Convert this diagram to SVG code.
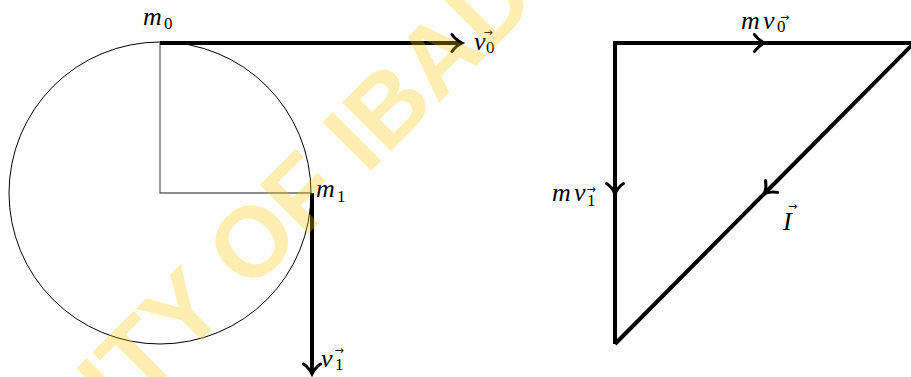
<svg xmlns="http://www.w3.org/2000/svg" width="911" height="377" viewBox="0 0 911 377">
  <style>
    .thin { fill: none; stroke: #000; stroke-width: 1; }
    .radius { fill: none; stroke: #666; stroke-width: 1.3; }
    .thick { fill: none; stroke: #000; stroke-width: 4; }
    .mi { font-family: "Liberation Serif", "DejaVu Serif", serif; font-style: italic; font-size: 26px; fill: #000; }
    .sub { font-style: normal; font-size: 17px; }
    .vec { font-family: "DejaVu Sans", sans-serif; font-style: normal; font-size: 11px; text-anchor: middle; }
    .wm { font-family: "Liberation Sans", Arial, sans-serif; font-weight: bold; font-size: 100px; fill: #FFC800; opacity: 0.3; }
  </style>
  <defs>
    <marker id="arrow" markerUnits="userSpaceOnUse" markerWidth="30" markerHeight="30" viewBox="-15 -15 30 30" refX="0" refY="0" orient="auto" overflow="visible">
      <path d="M-10,-8.5 C-7,-4 -2,-1 0,0 C-2,1 -7,4 -10,8.5" fill="none" stroke="#000" stroke-width="3" stroke-linecap="round"/>
    </marker>
  </defs>
  <rect width="911" height="377" fill="#fff"/>

  <g id="circle-path">
    <circle cx="160" cy="193" r="151" class="thin"/>
    <path d="M160,43 L160,193 L311,193" class="radius"/>
  </g>

  <g id="node-m0">
    <text class="mi"><tspan x="143" y="25">m</tspan><tspan class="sub" x="164" y="29">0</tspan></text>
  </g>
  <g id="node-m1">
    <text class="mi"><tspan x="316" y="197">m</tspan><tspan class="sub" x="337" y="202">1</tspan></text>
  </g>
  <g id="label-v0">
    <text class="mi"><tspan x="474" y="50">v</tspan><tspan class="vec" x="488" y="35.5">→</tspan><tspan class="sub" x="486" y="53">0</tspan></text>
  </g>
  <g id="label-v1">
    <text class="mi"><tspan x="321" y="367">v</tspan><tspan class="vec" x="339" y="353.5">→</tspan><tspan class="sub" x="335" y="370">1</tspan></text>
  </g>
  <g id="label-mv0">
    <text class="mi"><tspan x="741" y="29">m</tspan><tspan x="763" y="29">v</tspan><tspan class="vec" x="784.5" y="20.5">→</tspan><tspan class="sub" x="777" y="32">0</tspan></text>
  </g>
  <g id="label-mv1">
    <text class="mi"><tspan x="552" y="201">m</tspan><tspan x="574" y="201">v</tspan><tspan class="vec" x="591" y="192.5">→</tspan><tspan class="sub" x="587" y="206">1</tspan></text>
  </g>
  <g id="label-I">
    <text class="mi"><tspan x="783" y="230">I</tspan><tspan class="vec" x="792.5" y="210">→</tspan></text>
  </g>

  <g id="connectors">
    <path d="M160,43 L462,43" class="thick" marker-end="url(#arrow)"/>
    <path d="M312,193 L312,374" class="thick" marker-end="url(#arrow)"/>
    <path d="M613,43 L764.5,43 L916,43" class="thick" marker-mid="url(#arrow)"/>
    <path d="M615,43 L615,193.5 L615,344" class="thick" marker-mid="url(#arrow)"/>
    <path d="M914,43 L764.5,193.5 L615,344" class="thick" marker-mid="url(#arrow)" stroke-linejoin="round"/>
  </g>

  <text class="wm" transform="translate(-194,736) rotate(-45)">UNIVERSITY OF IBADAN</text>
</svg>
